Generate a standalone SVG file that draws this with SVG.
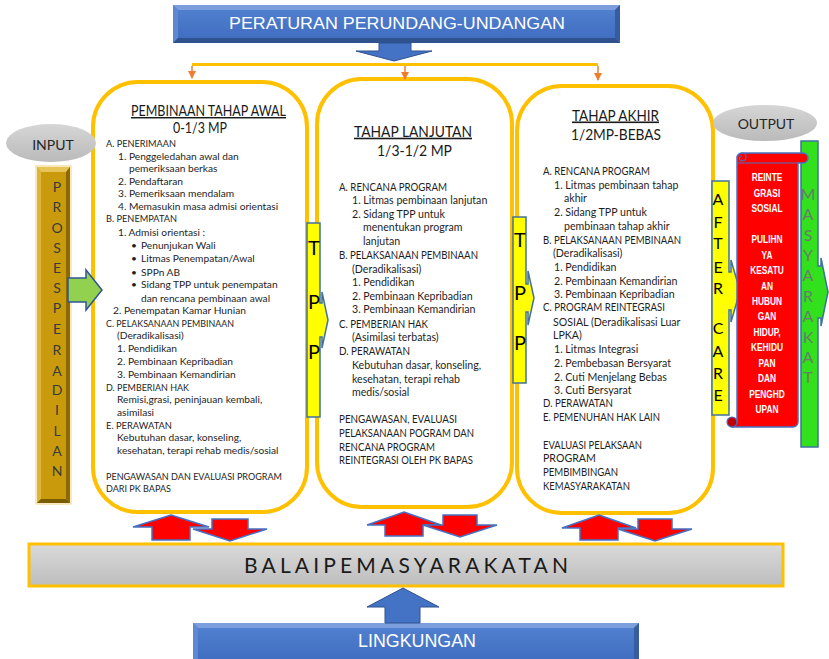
<svg xmlns="http://www.w3.org/2000/svg" width="829" height="659" viewBox="0 0 829 659">
  <defs>
    <linearGradient id="blueFace" x1="0" y1="0" x2="0" y2="1">
      <stop offset="0" stop-color="#5382D2"/>
      <stop offset="1" stop-color="#3F6BBE"/>
    </linearGradient>
    <linearGradient id="grayFace" x1="0" y1="0" x2="0" y2="1">
      <stop offset="0" stop-color="#DADADA"/>
      <stop offset="1" stop-color="#BDBDBD"/>
    </linearGradient>
    <linearGradient id="ovalFace" x1="0" y1="0" x2="0" y2="1">
      <stop offset="0" stop-color="#D6D6D6"/>
      <stop offset="1" stop-color="#BABABA"/>
    </linearGradient>
    <marker id="tipOrange" viewBox="0 0 8 8" refX="7" refY="4" markerWidth="8" markerHeight="8" markerUnits="userSpaceOnUse" orient="auto">
      <path d="M0,0 L8,4 L0,8 Z" fill="#ED7D31"/>
    </marker>
  </defs>
  <style>
    .stage { fill: #FFFFFF; stroke: #FFC000; stroke-width: 4; }
    .title { font-family: Lato, "Liberation Sans", sans-serif; fill: #1A1A1A; text-anchor: middle; }
    .ul { text-decoration: underline; }
    .b1 { font-family: Lato, "Liberation Sans", sans-serif; font-size: 10.2px; fill: #1E1E1E; }
    .b2 { font-family: Lato, "Liberation Sans", sans-serif; font-size: 10.6px; fill: #1E1E1E; }
    .callout { fill: #FFFF00; stroke: #41719C; stroke-width: 1.5; stroke-linejoin: miter; }
    .big { font-family: Lato, "Liberation Sans", sans-serif; font-size: 20px; fill: #000000; }
    .vert { font-family: Lato, "Liberation Sans", sans-serif; font-size: 16px; text-anchor: middle; }
    .banner { font-family: "Liberation Sans", Arial, sans-serif; fill: #FFFFFF; text-anchor: middle; }
    .oval { fill: url(#ovalFace); }
    .ovalText { font-family: Lato, "Liberation Sans", sans-serif; font-size: 14px; fill: #262626; text-anchor: middle; }
    .red { fill: #FF0000; stroke: #4472C4; stroke-width: 1.5; stroke-linejoin: miter; }
    .scrollText { font-family: "Liberation Sans", Arial, sans-serif; font-weight: bold; font-size: 11px; fill: #FFFFFF; text-anchor: middle; }
    .feed { stroke: #ED7D31; stroke-width: 1.5; fill: none; marker-end: url(#tipOrange); }
  </style>

  <rect width="829" height="659" fill="#FFFFFF"/>

  <!-- regulation banner -->
  <g id="peraturan">
    <rect x="173" y="5" width="447" height="38" fill="url(#blueFace)"/>
    <polygon points="173,5 620,5 615,10 178,10" fill="#7C9EDC"/>
    <polygon points="173,5 178,10 178,38 173,43" fill="#5E88D2"/>
    <polygon points="173,43 620,43 615,38 178,38" fill="#2F528F"/>
    <polygon points="620,5 620,43 615,38 615,10" fill="#365D9F"/>
    <text class="banner" x="397" y="29" font-size="17" textLength="336" lengthAdjust="spacingAndGlyphs">PERATURAN PERUNDANG-UNDANGAN</text>
  </g>

  <!-- three stage boxes -->
  <g id="tahap-awal">
    <rect class="stage" x="93" y="82" width="214" height="430" rx="45"/>
    <text class="title ul" x="208.5" y="116" font-size="14.5" textLength="155" lengthAdjust="spacingAndGlyphs">PEMBINAAN TAHAP AWAL</text>
    <text class="title" x="200" y="132.5" font-size="14.5" textLength="54" lengthAdjust="spacingAndGlyphs">0-1/3 MP</text>
    <text class="b1" x="106" y="146.5" textLength="70" lengthAdjust="spacingAndGlyphs">A. PENERIMAAN</text>
    <text class="b1" x="118" y="159.5">1. Penggeledahan awal dan</text>
    <text class="b1" x="129" y="172">pemeriksaan berkas</text>
    <text class="b1" x="118" y="184.5">2. Pendaftaran</text>
    <text class="b1" x="118" y="197">3. Pemeriksaan mendalam</text>
    <text class="b1" x="118" y="210">4. Memasukin masa admisi orientasi</text>
    <text class="b1" x="106" y="222" textLength="71" lengthAdjust="spacingAndGlyphs">B. PENEMPATAN</text>
    <text class="b1" x="118" y="235.5">1. Admisi orientasi :</text>
    <text class="b1" x="131" y="248.8">•</text>
    <text class="b1" x="141" y="248.8">Penunjukan Wali</text>
    <text class="b1" x="131" y="262">•</text>
    <text class="b1" x="141" y="262">Litmas Penempatan/Awal</text>
    <text class="b1" x="131" y="275.5">•</text>
    <text class="b1" x="141" y="275.5">SPPn AB</text>
    <text class="b1" x="131" y="288">•</text>
    <text class="b1" x="141" y="288">Sidang TPP untuk penempatan</text>
    <text class="b1" x="141" y="301.5">dan rencana pembinaan awal</text>
    <text class="b1" x="113" y="314">2. Penempatan Kamar Hunian</text>
    <text class="b1" x="106" y="327" textLength="128" lengthAdjust="spacingAndGlyphs">C. PELAKSANAAN PEMBINAAN</text>
    <text class="b1" x="117" y="339">(Deradikalisasi)</text>
    <text class="b1" x="117" y="352">1. Pendidikan</text>
    <text class="b1" x="117" y="365">2. Pembinaan Kepribadian</text>
    <text class="b1" x="117" y="377.5">3. Pembinaan Kemandirian</text>
    <text class="b1" x="106" y="390.5" textLength="83" lengthAdjust="spacingAndGlyphs">D. PEMBERIAN HAK</text>
    <text class="b1" x="117" y="403">Remisi,grasi, peninjauan kembali,</text>
    <text class="b1" x="117" y="415.5">asimilasi</text>
    <text class="b1" x="106" y="429" textLength="66" lengthAdjust="spacingAndGlyphs">E. PERAWATAN</text>
    <text class="b1" x="117" y="441">Kebutuhan dasar, konseling,</text>
    <text class="b1" x="117" y="454">kesehatan, terapi rehab medis/sosial</text>
    <text class="b1" x="106" y="479.5" textLength="176" lengthAdjust="spacingAndGlyphs">PENGAWASAN DAN EVALUASI PROGRAM</text>
    <text class="b1" x="106" y="492" textLength="65" lengthAdjust="spacingAndGlyphs">DARI PK BAPAS</text>
  </g>

  <g id="tahap-lanjutan">
    <rect class="stage" x="317" y="79" width="195" height="428" rx="45"/>
    <text class="title ul" x="413" y="136.7" font-size="16" textLength="118" lengthAdjust="spacingAndGlyphs">TAHAP LANJUTAN</text>
    <text class="title" x="414.5" y="155.5" font-size="16" textLength="75" lengthAdjust="spacingAndGlyphs">1/3-1/2 MP</text>
    <text class="b2" x="339" y="190.5" textLength="108" lengthAdjust="spacingAndGlyphs">A. RENCANA PROGRAM</text>
    <text class="b2" x="352" y="204">1. Litmas pembinaan lanjutan</text>
    <text class="b2" x="352" y="218">2. Sidang TPP untuk</text>
    <text class="b2" x="363" y="231">menentukan program</text>
    <text class="b2" x="363" y="245">lanjutan</text>
    <text class="b2" x="339" y="258.5" textLength="139" lengthAdjust="spacingAndGlyphs">B. PELAKSANAAN PEMBINAAN</text>
    <text class="b2" x="352" y="272.5">(Deradikalisasi)</text>
    <text class="b2" x="352" y="286">1. Pendidikan</text>
    <text class="b2" x="352" y="299.5">2. Pembinaan Kepribadian</text>
    <text class="b2" x="352" y="313">3. Pembinaan Kemandirian</text>
    <text class="b2" x="339" y="328" textLength="89" lengthAdjust="spacingAndGlyphs">C. PEMBERIAN HAK</text>
    <text class="b2" x="352" y="341">(Asimilasi terbatas)</text>
    <text class="b2" x="339" y="355" textLength="71" lengthAdjust="spacingAndGlyphs">D. PERAWATAN</text>
    <text class="b2" x="352" y="369">Kebutuhan dasar, konseling,</text>
    <text class="b2" x="352" y="382.5">kesehatan, terapi rehab</text>
    <text class="b2" x="352" y="396">medis/sosial</text>
    <text class="b2" x="339" y="423" textLength="118" lengthAdjust="spacingAndGlyphs">PENGAWASAN, EVALUASI</text>
    <text class="b2" x="339" y="436.5" textLength="135" lengthAdjust="spacingAndGlyphs">PELAKSANAAN POGRAM DAN</text>
    <text class="b2" x="339" y="450.5" textLength="96" lengthAdjust="spacingAndGlyphs">RENCANA PROGRAM</text>
    <text class="b2" x="339" y="464" textLength="134" lengthAdjust="spacingAndGlyphs">REINTEGRASI OLEH PK BAPAS</text>
  </g>

  <g id="tahap-akhir">
    <rect class="stage" x="517" y="86" width="196" height="427" rx="45"/>
    <text class="title ul" x="615.5" y="120.5" font-size="16" textLength="87" lengthAdjust="spacingAndGlyphs">TAHAP AKHIR</text>
    <text class="title" x="616" y="139.5" font-size="16" textLength="90" lengthAdjust="spacingAndGlyphs">1/2MP-BEBAS</text>
    <text class="b2" x="543" y="174.5" textLength="107" lengthAdjust="spacingAndGlyphs">A. RENCANA PROGRAM</text>
    <text class="b2" x="554" y="189">1. Litmas pembinaan tahap</text>
    <text class="b2" x="564" y="202">akhir</text>
    <text class="b2" x="554" y="216">2. Sidang TPP untuk</text>
    <text class="b2" x="564" y="230">pembinaan tahap akhir</text>
    <text class="b2" x="543" y="243.5" textLength="138" lengthAdjust="spacingAndGlyphs">B. PELAKSANAAN PEMBINAAN</text>
    <text class="b2" x="553" y="257">(Deradikalisasi)</text>
    <text class="b2" x="554" y="270.5">1. Pendidikan</text>
    <text class="b2" x="554" y="284.5">2. Pembinaan Kemandirian</text>
    <text class="b2" x="554" y="298">3. Pembinaan Kepribadian</text>
    <text class="b2" x="543" y="311" textLength="122" lengthAdjust="spacingAndGlyphs">C. PROGRAM REINTEGRASI</text>
    <text class="b2" x="553" y="325.5">SOSIAL (Deradikalisasi Luar</text>
    <text class="b2" x="553" y="339">LPKA)</text>
    <text class="b2" x="554" y="353">1. Litmas Integrasi</text>
    <text class="b2" x="554" y="366.5">2. Pembebasan Bersyarat</text>
    <text class="b2" x="554" y="380.5">2. Cuti Menjelang Bebas</text>
    <text class="b2" x="554" y="394">3. Cuti Bersyarat</text>
    <text class="b2" x="543" y="407" textLength="70" lengthAdjust="spacingAndGlyphs">D. PERAWATAN</text>
    <text class="b2" x="543" y="421" textLength="117" lengthAdjust="spacingAndGlyphs">E. PEMENUHAN HAK LAIN</text>
    <text class="b2" x="543" y="449" textLength="99" lengthAdjust="spacingAndGlyphs">EVALUASI PELAKSAAN</text>
    <text class="b2" x="543" y="462">PROGRAM</text>
    <text class="b2" x="543" y="476" textLength="75" lengthAdjust="spacingAndGlyphs">PEMBIMBINGAN</text>
    <text class="b2" x="543" y="489.5" textLength="87" lengthAdjust="spacingAndGlyphs">KEMASYARAKATAN</text>
  </g>

  <!-- TPP hand-over callouts between stages -->
  <g id="tpp-1">
    <path class="callout" d="M307,223 H320 V303 H322 V292 L328,320 L322,348 V337 H320 V417 H307 Z"/>
    <text class="big" x="308" y="254.5">T</text>
    <text class="big" x="308" y="308.5">P</text>
    <text class="big" x="308" y="358.5">P</text>
  </g>
  <g id="tpp-2">
    <path class="callout" d="M513,217 H526 V284 H528 V271 L534,298 L528,325 V312 H526 V383 H513 Z"/>
    <text class="big" x="514" y="246.5">T</text>
    <text class="big" x="514" y="299.5">P</text>
    <text class="big" x="514" y="349.5">P</text>
  </g>

  <!-- after care callout -->
  <g id="after-care">
    <path class="callout" d="M712,181 H729 V272 H731 V260 L740,291 L731,322 V310 H729 V415 H712 Z"/>
    <text class="vert" x="718" y="204.5" fill="#000000">A</text>
    <text class="vert" x="718" y="227.5" fill="#000000">F</text>
    <text class="vert" x="718" y="248.5" fill="#000000">T</text>
    <text class="vert" x="718" y="272.5" fill="#000000">E</text>
    <text class="vert" x="718" y="293.5" fill="#000000">R</text>
    <text class="vert" x="718" y="333.5" fill="#000000">C</text>
    <text class="vert" x="718" y="356.5" fill="#000000">A</text>
    <text class="vert" x="718" y="378.5" fill="#000000">R</text>
    <text class="vert" x="718" y="400.5" fill="#000000">E</text>
  </g>

  <!-- society arrow -->
  <g id="masyarakat">
    <path d="M801,141 H818 V266 H821 V258 L828,292 L821,326 V318 H818 V447 H801 Z" fill="#32E01E" stroke="#41719C" stroke-width="1.5"/>
    <g fill="#6A7A6A">
      <text class="vert" x="808" y="200" font-size="15">M</text>
      <text class="vert" x="808" y="220" font-size="15">A</text>
      <text class="vert" x="808" y="240.5" font-size="15">S</text>
      <text class="vert" x="808" y="260.5" font-size="15">Y</text>
      <text class="vert" x="808" y="281" font-size="15">A</text>
      <text class="vert" x="808" y="301.5" font-size="15">R</text>
      <text class="vert" x="808" y="322" font-size="15">A</text>
      <text class="vert" x="808" y="342.5" font-size="15">K</text>
      <text class="vert" x="808" y="362.5" font-size="15">A</text>
      <text class="vert" x="808" y="382.5" font-size="15">T</text>
    </g>
  </g>

  <!-- outcome scroll -->
  <g id="reintegrasi-sosial">
    <path class="red" d="M737,158 V422 H732 A5,5 0 0 0 732,427 H793 A5,5 0 0 0 798,422 V163 H803 A5,5 0 0 0 803,153 H742 A5,5 0 0 0 737,158 Z"/>
    <path d="M737,158 A5,5 0 0 1 742,153 A4,4 0 0 1 742,161 A2.5,2.5 0 0 1 742,156" fill="none" stroke="#4472C4" stroke-width="1.2"/>
    <circle cx="732" cy="422" r="5" fill="#C00000" stroke="#4472C4" stroke-width="1.2"/>
    <line x1="737" y1="163" x2="798" y2="163" stroke="#4472C4" stroke-width="1.2"/>
    <g transform="translate(767,0) scale(0.76,1)">
      <text class="scrollText" x="0" y="181.3">REINTE</text>
      <text class="scrollText" x="0" y="196.8">GRASI</text>
      <text class="scrollText" x="0" y="212.2">SOSIAL</text>
      <text class="scrollText" x="0" y="243.2">PULIHN</text>
      <text class="scrollText" x="0" y="258.7">YA</text>
      <text class="scrollText" x="0" y="274.1">KESATU</text>
      <text class="scrollText" x="0" y="289.6">AN</text>
      <text class="scrollText" x="0" y="305.1">HUBUN</text>
      <text class="scrollText" x="0" y="320.5">GAN</text>
      <text class="scrollText" x="0" y="336">HIDUP,</text>
      <text class="scrollText" x="0" y="351.5">KEHIDU</text>
      <text class="scrollText" x="0" y="366.9">PAN</text>
      <text class="scrollText" x="0" y="382.4">DAN</text>
      <text class="scrollText" x="0" y="397.9">PENGHD</text>
      <text class="scrollText" x="0" y="413.3">UPAN</text>
    </g>
  </g>

  <!-- input / output labels -->
  <g id="input">
    <ellipse class="oval" cx="51" cy="143" rx="45" ry="19"/>
    <text class="ovalText" x="53" y="150">INPUT</text>
  </g>
  <g id="output">
    <ellipse class="oval" cx="765" cy="123" rx="52" ry="18"/>
    <text class="ovalText" x="766" y="129">OUTPUT</text>
  </g>

  <!-- court process column -->
  <g id="proses-peradilan">
    <rect x="36" y="166" width="35" height="338" fill="none" stroke="#F2D27A" stroke-width="1"/>
    <rect x="37" y="167" width="33" height="336" fill="#C99A0C"/>
    <polygon points="37,167 70,167 66,172 41,172" fill="#E6C457"/>
    <polygon points="37,167 41,172 41,499 37,503" fill="#DDB43C"/>
    <polygon points="70,167 70,503 66,499 66,172" fill="#8C6A00"/>
    <polygon points="37,503 70,503 66,499 41,499" fill="#7A5C00"/>
    <g font-family="Lato, 'Liberation Sans', sans-serif" font-size="14" fill="#3A3A3A" text-anchor="middle">
      <text x="57" y="192">P</text>
      <text x="57" y="212">R</text>
      <text x="57" y="233">O</text>
      <text x="57" y="253">S</text>
      <text x="57" y="273">E</text>
      <text x="57" y="293">S</text>
      <text x="57" y="313">P</text>
      <text x="57" y="334">E</text>
      <text x="57" y="355">R</text>
      <text x="57" y="376">A</text>
      <text x="57" y="395">D</text>
      <text x="57" y="415">I</text>
      <text x="57" y="436">L</text>
      <text x="57" y="456">A</text>
      <text x="57" y="476">N</text>
    </g>
  </g>

  <!-- community correction office -->
  <g id="balai-pemasyarakatan">
    <rect x="29" y="544" width="754" height="42" fill="url(#grayFace)" stroke="#FFC000" stroke-width="3"/>
    <text x="244" y="573" font-family="Lato, 'Liberation Sans', sans-serif" font-size="21" fill="#1A1A1A" textLength="324" lengthAdjust="spacing">BALAIPEMASYARAKATAN</text>
  </g>

  <!-- environment banner -->
  <g id="lingkungan">
    <rect x="193" y="623" width="446" height="42" fill="url(#blueFace)"/>
    <polygon points="193,623 639,623 634,628 198,628" fill="#7C9EDC"/>
    <polygon points="193,623 198,628 198,665 193,665" fill="#5E88D2"/>
    <polygon points="639,623 639,665 634,665 634,628" fill="#365D9F"/>
    <text class="banner" x="417" y="647" font-size="19" textLength="118" lengthAdjust="spacingAndGlyphs">LINGKUNGAN</text>
  </g>

  <!-- connectors -->
  <g id="connectors">
    <polygon points="379,43 411,43 411,51 432,51 394,61 356,51 379,51" fill="#4472C4" stroke="#2F528F" stroke-width="1"/>
    <line x1="192" y1="64.5" x2="598" y2="64.5" stroke="#FFC000" stroke-width="3"/>
    <line class="feed" x1="192" y1="66" x2="192" y2="78"/>
    <line class="feed" x1="405" y1="66" x2="405" y2="79"/>
    <line class="feed" x1="598" y1="66" x2="598" y2="80"/>

    <polygon points="68,278 86,278 86,270 102,290 86,310 86,302 68,302" fill="#92D050" stroke="#2F5597" stroke-width="1.5"/>

    <polygon class="red" points="171,515 209,527 190,527 190,540 152,540 152,527 133,527"/>
    <polygon class="red" points="212,519 248,519 248,529 267,529 230,541 193,529 212,529"/>
    <polygon class="red" points="404,512 441,525 423,525 423,536 385,536 385,525 367,525"/>
    <polygon class="red" points="443,515 477,515 477,525 497,525 460,537 423,525 443,525"/>
    <polygon class="red" points="599,515 636,528 618,528 618,540 580,540 580,528 562,528"/>
    <polygon class="red" points="638,519 672,519 672,529 692,529 655,541 618,529 638,529"/>

    <polygon points="403,588 439,607 420,607 420,623 385,623 385,607 367,607" fill="#4472C4" stroke="#2F528F" stroke-width="1"/>
  </g>
</svg>
